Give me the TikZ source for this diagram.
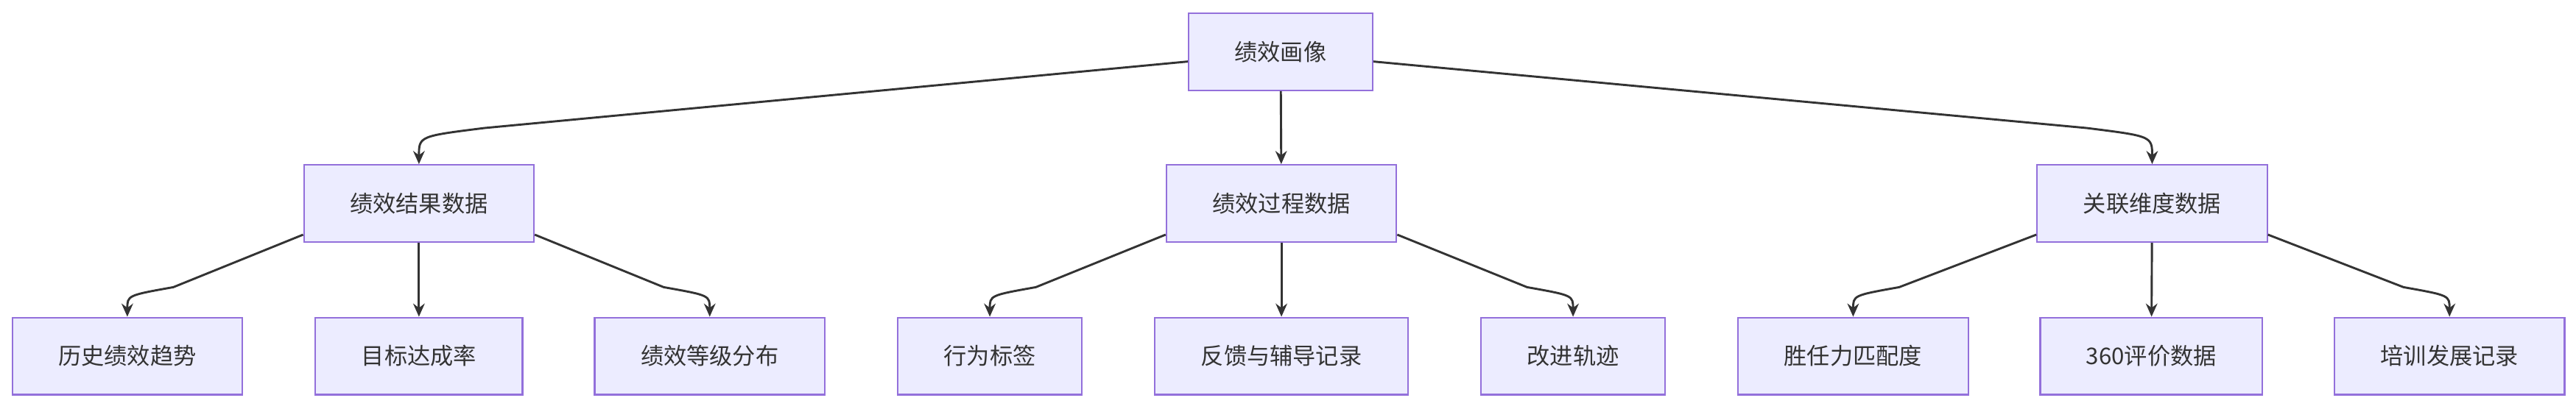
\documentclass[tikz,border=0pt]{standalone}
\usepackage{fontspec}
\setmainfont{Noto Sans CJK SC}
\usetikzlibrary{calc,arrows.meta}
\definecolor{nf}{HTML}{ECECFF}
\definecolor{nb}{HTML}{9370DB}
\definecolor{ec}{HTML}{333333}
\begin{document}
\begin{tikzpicture}[x=1pt,y=1pt,
 n/.style={draw=nb,fill=nf,line width=1pt,minimum height=47pt,inner xsep=28pt,font=\fontsize{14pt}{16pt}\selectfont,text=ec},
 e/.style={draw=ec,line width=1.3pt,-{Stealth[length=8pt,width=7pt]}}]
\useasboundingbox (0,0) rectangle (1568,249);
\node[n] (r) at (779.5,217.5) {绩效画像};
\node[n] (a) at (255,125) {绩效结果数据};
\node[n] (b) at (780,125) {绩效过程数据};
\node[n] (c) at (1310,125) {关联维度数据};
\node[n] (a1) at (77.5,32) {历史绩效趋势};
\node[n] (a2) at (255,32) {目标达成率};
\node[n] (a3) at (432,32) {绩效等级分布};
\node[n] (b1) at (602.5,32) {行为标签};
\node[n] (b2) at (780,32) {反馈与辅导记录};
\node[n] (b3) at (957.5,32) {改进轨迹};
\node[n] (c1) at (1128,32) {胜任力匹配度};
\node[n] (c2) at (1309.5,32) {360评价数据};
\node[n] (c3) at (1491,32) {培训发展记录};
% root edges
\draw[e] ($(r.west)+(0,-6)$) -- ($(a.north)+(40,22)$) .. controls ($(a.north)+(0,17)$) .. (a.north);
\draw[e] (r) -- (b);
\draw[e] ($(r.east)+(0,-6)$) -- ($(c.north)+(-40,22)$) .. controls ($(c.north)+(0,17)$) .. (c.north);
% level 2 edges
\foreach \p/\l/\m/\rr in {a/a1/a2/a3,b/b1/b2/b3,c/c1/c2/c3}{
 \draw[e] ($(\p.south west)+(0,5)$) -- ($(\l.north)+(28,18)$) .. controls ($(\l.north)+(0,13)$) .. (\l.north);
 \draw[e] (\p) -- (\m);
 \draw[e] ($(\p.south east)+(0,5)$) -- ($(\rr.north)+(-28,18)$) .. controls ($(\rr.north)+(0,13)$) .. (\rr.north);
}
\end{tikzpicture}
\end{document}
